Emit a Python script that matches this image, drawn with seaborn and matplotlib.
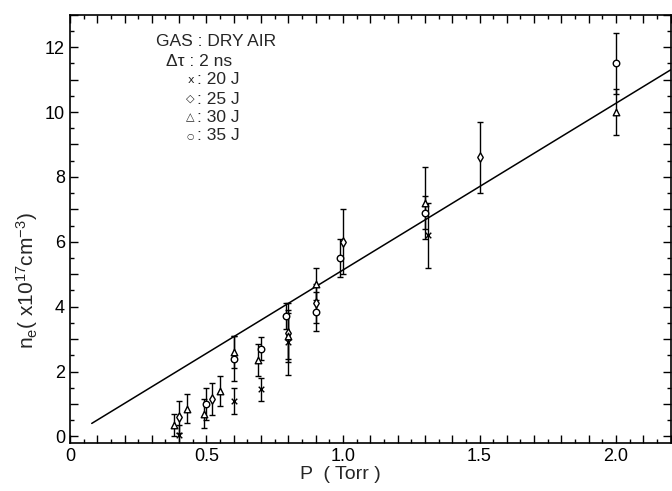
import numpy as np
import pandas as pd
import matplotlib
matplotlib.use("Agg")
import matplotlib.pyplot as plt
from matplotlib.ticker import MultipleLocator, FuncFormatter
import seaborn as sns

# ========== DATA ==========
# 20 J  (x markers)
P_20J = [0.40, 0.60, 0.70, 0.80, 1.31]
NE_20J = [0.05, 1.10, 1.45, 2.90, 6.20]
ERR_20J = [0.30, 0.40, 0.35, 1.00, 1.00]

# 25 J  (diamonds)
P_25J = [0.40, 0.52, 0.80, 0.90, 1.00, 1.50]
NE_25J = [0.60, 1.15, 3.20, 4.10, 6.00, 8.60]
ERR_25J = [0.50, 0.50, 0.90, 0.60, 1.00, 1.10]

# 30 J  (triangles)
P_30J = [0.38, 0.43, 0.49, 0.55, 0.60, 0.69, 0.80, 0.90, 1.30, 2.00]
NE_30J = [0.35, 0.85, 0.70, 1.40, 2.60, 2.35, 3.10, 4.70, 7.20, 10.00]
ERR_30J = [0.35, 0.45, 0.45, 0.45, 0.50, 0.50, 0.70, 0.50, 1.10, 0.70]

# 35 J  (circles)
P_35J = [0.50, 0.60, 0.70, 0.79, 0.90, 0.99, 1.30, 2.00]
NE_35J = [1.00, 2.40, 2.70, 3.70, 3.85, 5.50, 6.90, 11.50]
ERR_35J = [0.50, 0.70, 0.35, 0.40, 0.60, 0.60, 0.50, 0.95]

# straight line drawn through the data
FIT_P = [0.08, 2.20]
FIT_NE = [0.40, 11.30]

ENERGIES = ["20J", "25J", "30J", "35J"]
MARKERS = {"20J": "x", "25J": "d", "30J": "^", "35J": "o"}
LEGEND_SYMBOLS = {"20J": "x", "25J": "◇", "30J": "△", "35J": "○"}
LEGEND_SYMBOL_SIZE = {"20J": 8, "25J": 8, "30J": 8, "35J": 6}

W, H = 672, 491


def build_frame():
    parts = []
    for e, p, n, err in [("20J", P_20J, NE_20J, ERR_20J),
                         ("25J", P_25J, NE_25J, ERR_25J),
                         ("30J", P_30J, NE_30J, ERR_30J),
                         ("35J", P_35J, NE_35J, ERR_35J)]:
        parts.append(pd.DataFrame({"P": p, "ne": n, "err": err, "energy": e}))
    return pd.concat(parts, ignore_index=True)


def main():
    sns.set_theme(style="ticks")
    plt.rcParams["font.family"] = ["Liberation Sans", "DejaVu Sans"]
    plt.rcParams["mathtext.fontset"] = "custom"
    plt.rcParams["mathtext.rm"] = "Liberation Sans"
    plt.rcParams["mathtext.it"] = "Liberation Sans"

    df = build_frame()

    fig = plt.figure(figsize=(W / 100, H / 100), dpi=100)
    ax = fig.add_axes([0.104, 0.098, 0.894, 0.872])

    # fitted line
    sns.lineplot(x=FIT_P, y=FIT_NE, ax=ax, color="black", linewidth=1.1)

    # error bars
    ax.errorbar(df["P"], df["ne"], yerr=df["err"], fmt="none",
                ecolor="black", elinewidth=1.0, capsize=2, capthick=1.0, zorder=2)

    # markers, one group per energy
    for e in ENERGIES:
        sub = df[df["energy"] == e]
        if MARKERS[e] == "x":
            sns.scatterplot(data=sub, x="P", y="ne", ax=ax, marker="x",
                            color="black", s=16, linewidth=1.0, zorder=3)
        else:
            sns.scatterplot(data=sub, x="P", y="ne", ax=ax, marker=MARKERS[e],
                            facecolor="white", edgecolor="black", s=22,
                            linewidth=1.0, zorder=3)

    ax.set_xlim(0.0, 2.2)
    ax.set_ylim(-0.2, 13.0)

    ax.xaxis.set_major_locator(MultipleLocator(0.1))
    ax.xaxis.set_minor_locator(MultipleLocator(0.05))
    ax.xaxis.set_major_formatter(FuncFormatter(
        lambda v, pos: ("0" if abs(v) < 1e-6 else f"{v:.1f}")
        if abs(v / 0.5 - round(v / 0.5)) < 1e-6 else ""))
    ax.yaxis.set_major_locator(MultipleLocator(1))
    ax.yaxis.set_minor_locator(MultipleLocator(0.5))
    ax.yaxis.set_major_formatter(FuncFormatter(
        lambda v, pos: f"{int(round(v))}" if int(round(v)) % 2 == 0 else ""))

    ax.tick_params(which="both", direction="in", top=True, right=True,
                   colors="black", labelsize=13, width=1.0)
    ax.tick_params(which="major", length=6)
    ax.tick_params(which="minor", length=3)
    for s in ax.spines.values():
        s.set_linewidth(1.2)
        s.set_color("black")

    ax.set_xlabel("P  ( Torr )", fontsize=14)
    ax.xaxis.set_label_coords(0.45, -0.055)
    ax.set_ylabel(r"n$_\mathrm{e}$( x10$^{17}$cm$^{-3}$)", fontsize=15)
    ax.yaxis.set_label_coords(-0.05, 0.38)

    # in-plot legend block, placed in figure pixels (from top-left)
    def px(x, y):
        return x / W, 1 - y / H

    fs = 12.5
    fig.text(*px(156, 42), "GAS : DRY AIR", fontsize=fs, va="center")
    fig.text(*px(166, 61), "Δτ : 2 ns", fontsize=fs, va="center")
    ys = [80, 99, 117, 136]
    for e, y in zip(ENERGIES, ys):
        fig.text(*px(194, y), LEGEND_SYMBOLS[e], fontsize=LEGEND_SYMBOL_SIZE[e],
                 va="center", ha="right", family=["DejaVu Sans"])
        fig.text(*px(197, y), ": " + e[:-1] + " J", fontsize=fs, va="center")

    fig.savefig("out.png", dpi=100)


if __name__ == "__main__":
    main()
